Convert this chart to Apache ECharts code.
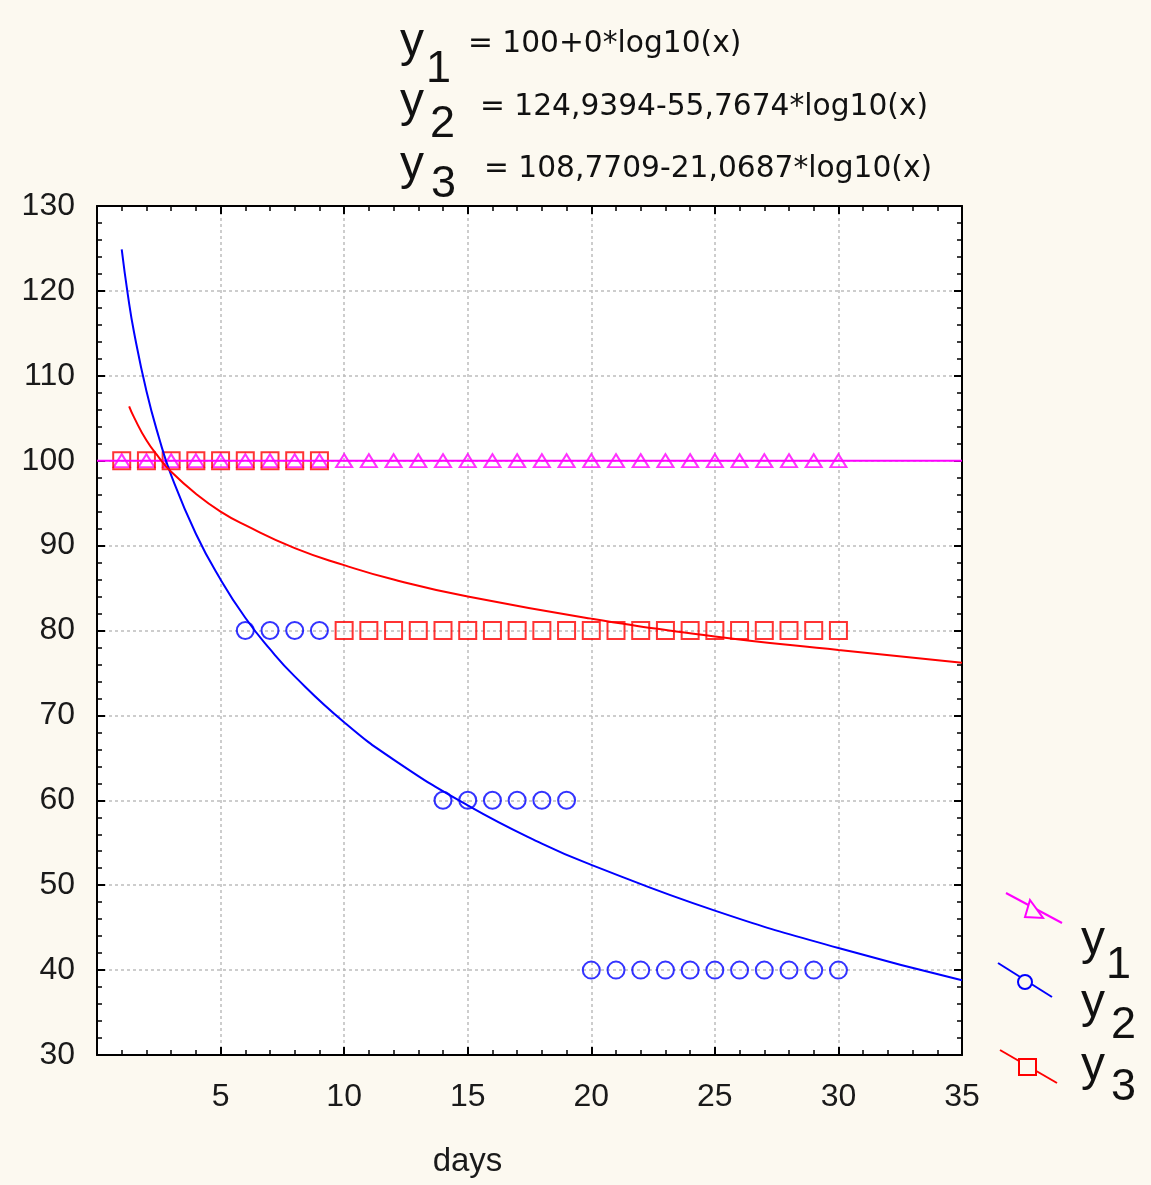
<!DOCTYPE html>
<html>
<head>
<meta charset="utf-8">
<title>days</title>
<script src="https://cdn.jsdelivr.net/npm/echarts@6/dist/echarts.min.js"></script>
<style>
  html, body { margin: 0; padding: 0; background: #fcf9f0; }
  #chart-box { width: 1151px; height: 1185px; }
</style>
</head>
<body>
<div id="chart-box"></div>
<script>
// observed points
var y1Days = [1,2,3,4,5,6,7,8,9,10,11,12,13,14,15,16,17,18,19,20,21,22,23,24,25,26,27,28,29,30];
var y1Values = [100,100,100,100,100,100,100,100,100,100,100,100,100,100,100,100,100,100,100,100,100,100,100,100,100,100,100,100,100,100];
var y2Days = [6,7,8,9,14,15,16,17,18,19,20,21,22,23,24,25,26,27,28,29,30];
var y2Values = [80,80,80,80,60,60,60,60,60,60,40,40,40,40,40,40,40,40,40,40,40];
var y3Days = [1,2,3,4,5,6,7,8,9,10,11,12,13,14,15,16,17,18,19,20,21,22,23,24,25,26,27,28,29,30];
var y3Values = [100,100,100,100,100,100,100,100,100,80,80,80,80,80,80,80,80,80,80,80,80,80,80,80,80,80,80,80,80,80];

// fitted curves
var fit1Days = [0, 35];
var fit1Values = [100, 100];
var fit2Days = [1, 1.25, 1.5, 2, 2.5, 3, 4, 5, 6, 7, 8, 10, 12, 15, 18, 20, 25, 30, 35];
var fit2Values = [124.9, 119.5, 115.1, 108.2, 102.8, 98.3, 91.4, 86.0, 81.5, 77.8, 74.6, 69.2, 64.8, 59.4, 54.9, 52.4, 47.0, 42.6, 38.8];
var fit3Days = [1.3, 1.5, 2, 2.5, 3, 4, 5, 6, 8, 10, 12, 15, 20, 25, 30, 35];
var fit3Values = [106.4, 105.1, 102.4, 100.4, 98.7, 96.1, 94.0, 92.4, 89.7, 87.7, 86.0, 84.0, 81.4, 79.3, 77.7, 76.2];

var seriesNames = ['1', '2', '3'];
var equations = ['= 100+0*log10(x)', '= 124,9394-55,7674*log10(x)', '= 108,7709-21,0687*log10(x)'];
var colors = ['#ff00ff', '#0000ff', '#ff0000'];
var FONT = 'Liberation Sans';
var EQ_FONT = 'DejaVu Sans';
var BG = '#fcf9f0';

function pairs(xs, ys){
  var out = [];
  for (var i = 0; i < xs.length; i++) out.push([xs[i], ys[i]]);
  return out;
}

var chart = echarts.init(document.getElementById('chart-box'));

function axisBase(extra){
  var a = {
    type: 'value',
    axisLine: { show: true, onZero: false, lineStyle: { color: '#000', width: 2 } },
    axisTick: { show: true, inside: true, length: 8, lineStyle: { color: '#000', width: 2 } },
    minorTick: { show: true, splitNumber: 5, length: 5, lineStyle: { color: '#000', width: 1.5 } },
    splitLine: { show: false },
    axisLabel: { show: false }
  };
  for (var k in extra) a[k] = extra[k];
  return a;
}

var gridLine = { show: true, lineStyle: { color: '#bdbdbd', type: [3, 3], width: 1.5 } };

// header equations + legend drawn as graphic text
var graphics = [];
var eqTop = [29, 92, 154];
var bigTop = [19, 79, 142];
var subTop = [47, 102, 162];
var subX = [426, 430, 431];
var eqX = [468, 480, 484];
for (var i = 0; i < 3; i++) {
  graphics.push({ type: 'text', left: 400, top: bigTop[i], style: { text: 'y', font: '48px ' + FONT, fill: '#111' } });
  graphics.push({ type: 'text', left: subX[i], top: subTop[i], style: { text: seriesNames[i], font: '45px ' + FONT, fill: '#111' } });
  graphics.push({ type: 'text', left: eqX[i], top: eqTop[i], style: { text: equations[i], font: '29.7px ' + EQ_FONT, fill: '#111' } });
}

var legTop = [917, 980, 1043];
var legSubTop = [943, 1003, 1065];
var legSubX = [1106, 1111, 1111];
for (var j = 0; j < 3; j++) {
  graphics.push({ type: 'text', left: 1081, top: legTop[j], style: { text: 'y', font: '48px ' + FONT, fill: '#111' } });
  graphics.push({ type: 'text', left: legSubX[j], top: legSubTop[j], style: { text: seriesNames[j], font: '45px ' + FONT, fill: '#111' } });
}
graphics.push({ type: 'line', shape: { x1: 1006, y1: 893, x2: 1062, y2: 923 }, style: { stroke: colors[0], lineWidth: 2 } });
graphics.push({ type: 'polygon', shape: { points: [[1030, 900], [1043, 918], [1025, 917]] }, style: { fill: BG, stroke: colors[0], lineWidth: 2 }, z: 5 });
graphics.push({ type: 'line', shape: { x1: 998, y1: 963, x2: 1052, y2: 997 }, style: { stroke: colors[1], lineWidth: 2 } });
graphics.push({ type: 'circle', shape: { cx: 1025, cy: 982, r: 7 }, style: { fill: BG, stroke: colors[1], lineWidth: 2 }, z: 5 });
graphics.push({ type: 'line', shape: { x1: 1000, y1: 1050, x2: 1057, y2: 1083 }, style: { stroke: colors[2], lineWidth: 2 } });
graphics.push({ type: 'rect', shape: { x: 1019, y: 1059, width: 17, height: 16 }, style: { fill: BG, stroke: colors[2], lineWidth: 2 }, z: 5 });

var option = {
  backgroundColor: BG,
  animation: false,
  grid: { left: 97, right: 189, top: 206, bottom: 130, show: true, backgroundColor: '#fff', borderWidth: 0 },
  xAxis: [
    axisBase({
      min: 0, max: 35, interval: 5, position: 'bottom',
      splitLine: gridLine,
      axisLabel: { show: true, showMinLabel: false, margin: 26, color: '#1a1a1a', fontSize: 32, fontFamily: FONT },
      name: 'days', nameLocation: 'middle', nameGap: 90,
      nameTextStyle: { color: '#1a1a1a', fontSize: 33, fontFamily: FONT, padding: [0, 124, 0, 0] }
    }),
    axisBase({ min: 0, max: 35, interval: 5, position: 'top' })
  ],
  yAxis: [
    axisBase({
      min: 30, max: 130, interval: 10, position: 'left',
      splitLine: gridLine,
      axisLabel: { show: true, margin: 22, color: '#1a1a1a', fontSize: 32, fontFamily: FONT }
    }),
    axisBase({ min: 30, max: 130, interval: 10, position: 'right' })
  ],
  graphic: graphics,
  series: [
    {
      name: 'y1', type: 'scatter', data: pairs(y1Days, y1Values),
      symbol: 'triangle', symbolSize: [16, 13],
      itemStyle: { color: 'transparent', borderColor: colors[0], borderWidth: 2 }, z: 3
    },
    {
      name: 'y2', type: 'scatter', data: pairs(y2Days, y2Values),
      symbol: 'circle', symbolSize: 17,
      itemStyle: { color: 'transparent', borderColor: colors[1], borderWidth: 2 }, z: 3
    },
    {
      name: 'y3', type: 'scatter', data: pairs(y3Days, y3Values),
      symbol: 'rect', symbolSize: 17,
      itemStyle: { color: 'transparent', borderColor: colors[2], borderWidth: 2 }, z: 3
    },
    {
      name: 'fit1', type: 'line', data: pairs(fit1Days, fit1Values), showSymbol: false,
      lineStyle: { color: colors[0], width: 2 }, z: 4
    },
    {
      name: 'fit2', type: 'line', data: pairs(fit2Days, fit2Values), showSymbol: false, smooth: true,
      lineStyle: { color: colors[1], width: 2 }, z: 4
    },
    {
      name: 'fit3', type: 'line', data: pairs(fit3Days, fit3Values), showSymbol: false, smooth: true,
      lineStyle: { color: colors[2], width: 2 }, z: 4
    }
  ]
};

chart.setOption(option);
</script>
</body>
</html>
